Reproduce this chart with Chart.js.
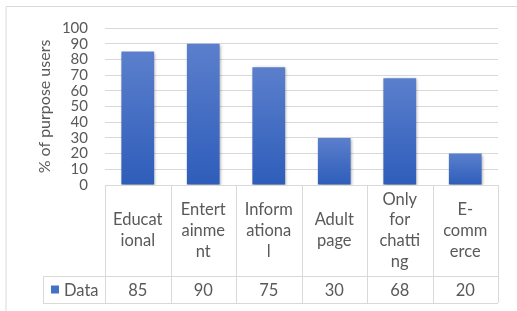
<!DOCTYPE html>
<html>
<head>
<meta charset="utf-8">
<script src="https://cdn.jsdelivr.net/npm/chart.js@4.4.0/dist/chart.umd.min.js"></script>
<style>
  body { margin: 0; background: #fff; }
  #myChart { display: block; }
</style>
</head>
<body>
<canvas id="myChart" width="517" height="311" style="width:517px;height:311px"></canvas>
<script>
// wrapped the way the table cells show them
const categories = [
  ["Educat", "ional"],
  ["Entert", "ainme", "nt"],
  ["Inform", "ationa", "l"],
  ["Adult", "page"],
  ["Only", "for", "chatti", "ng"],
  ["E-", "comm", "erce"],
];
const dataValues = [85, 90, 75, 30, 68, 20];
const seriesName = "Data";
const yTicks = [0, 10, 20, 30, 40, 50, 60, 70, 80, 90, 100];
const yTitle = "% of purpose users";

const textColor = "#595959";
const lineColor = "#D9D9D9";
const fontName = "Lato, 'Open Sans', sans-serif";

// row edges of the data table under the plot
const labelRowBottom = 276;
const valueRowBottom = 303;
const legendLeft = 43;

function barGradient(context) {
  const chart = context.chart;
  if (!chart.chartArea) return "#4472C4";
  const y = chart.scales.y;
  const top = y.getPixelForValue(context.raw);
  const bottom = y.getPixelForValue(0);
  const g = chart.ctx.createLinearGradient(0, top, 0, bottom);
  g.addColorStop(0, "#5B7FCC");
  g.addColorStop(1, "#2E5DBA");
  return g;
}

const shadowPlugin = {
  id: "barShadow",
  beforeDatasetsDraw(chart) {
    const ctx = chart.ctx;
    ctx.save();
    ctx.shadowColor = "rgba(0,0,0,0.35)";
    ctx.shadowBlur = 3;
    ctx.shadowOffsetX = 1;
    ctx.shadowOffsetY = 1;
  },
  afterDatasetsDraw(chart) {
    chart.ctx.restore();
  },
};

const tablePlugin = {
  id: "dataTable",
  afterDraw(chart) {
    const ctx = chart.ctx;
    const x = chart.scales.x;
    const area = chart.chartArea;
    const n = categories.length;
    const w = x.width / n;
    const left = area.left;
    const right = area.right;
    const top = area.bottom;

    ctx.save();
    ctx.strokeStyle = lineColor;
    ctx.lineWidth = 1;
    ctx.beginPath();
    // outer chart border (only top and left fall inside the picture)
    ctx.moveTo(6, 311);
    ctx.lineTo(6, 6.5);
    ctx.lineTo(517, 6.5);
    // table
    ctx.moveTo(left, top + 0.5);
    ctx.lineTo(right, top + 0.5);
    ctx.moveTo(legendLeft, labelRowBottom + 0.5);
    ctx.lineTo(right, labelRowBottom + 0.5);
    ctx.moveTo(legendLeft, valueRowBottom + 0.5);
    ctx.lineTo(right, valueRowBottom + 0.5);
    ctx.moveTo(legendLeft + 0.5, labelRowBottom);
    ctx.lineTo(legendLeft + 0.5, valueRowBottom);
    for (let i = 0; i <= n; i++) {
      const px = Math.round(left + i * w) + 0.5;
      ctx.moveTo(px, top);
      ctx.lineTo(px, valueRowBottom);
    }
    ctx.stroke();

    ctx.fillStyle = textColor;
    ctx.font = "16.5px " + fontName;
    ctx.textAlign = "center";
    ctx.textBaseline = "middle";
    const lh = 20.7;
    const mid = (top + labelRowBottom) / 2;
    categories.forEach((lines, i) => {
      const cx = x.getPixelForValue(i);
      const y0 = mid - ((lines.length - 1) * lh) / 2;
      lines.forEach((t, j) => ctx.fillText(t, cx, y0 + j * lh));
      ctx.fillText(String(dataValues[i]), cx, (labelRowBottom + valueRowBottom) / 2 + 1);
    });

    // legend key
    const ry = (labelRowBottom + valueRowBottom) / 2;
    ctx.fillStyle = "#4472C4";
    ctx.fillRect(51, ry - 4, 8, 8);
    ctx.fillStyle = textColor;
    ctx.textAlign = "left";
    ctx.fillText(seriesName, 64, ry + 1);
    ctx.restore();
  },
};

const ctx = document.getElementById("myChart").getContext("2d");
const myChart = new Chart(ctx, {
  type: "bar",
  data: {
    labels: categories.map((c) => c.join("")),
    datasets: [
      {
        label: seriesName,
        data: dataValues,
        backgroundColor: barGradient,
        borderWidth: 0,
        categoryPercentage: 1,
        barPercentage: 0.5,
      },
    ],
  },
  options: {
    responsive: false,
    animation: false,
    layout: {
      padding: { left: 0, right: 19, top: 28, bottom: 126 },
    },
    plugins: {
      legend: { display: false },
      tooltip: { enabled: false },
    },
    scales: {
      x: {
        display: false,
      },
      y: {
        min: 0,
        max: 100,
        afterFit(scale) {
          scale.width = 105;
        },
        afterBuildTicks(scale) {
          scale.ticks = yTicks.map((v) => ({ value: v }));
        },
        border: { display: false },
        grid: { color: lineColor, drawTicks: false },
        ticks: {
          color: textColor,
          padding: 17,
          autoSkip: false,
          font: { family: fontName, size: 15 },
        },
        title: {
          display: true,
          text: yTitle,
          color: textColor,
          font: { family: fontName, size: 16 },
          padding: { top: 35, bottom: 0 },
        },
      },
    },
  },
  plugins: [shadowPlugin, tablePlugin],
});
</script>
</body>
</html>
